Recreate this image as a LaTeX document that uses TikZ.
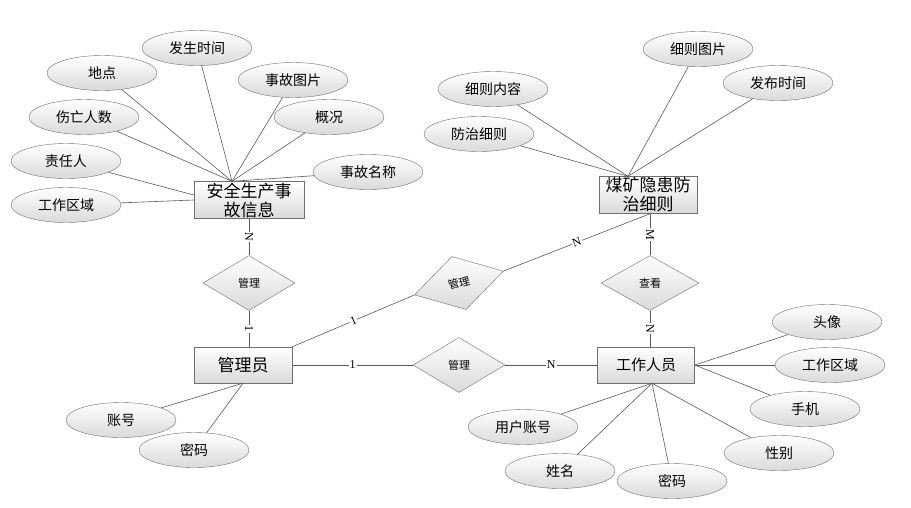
\documentclass[tikz,border=0pt]{standalone}
\usepackage{fontspec}
\setmainfont{Noto Sans CJK SC}
\newfontfamily\cardfont{Liberation Serif}
\usetikzlibrary{shapes.geometric}
\definecolor{edgegray}{HTML}{6F6F6F}
\definecolor{linegray}{HTML}{5A5A5A}
\definecolor{shadegray}{HTML}{DADADA}
\tikzset{
	attr/.style={ellipse,draw=edgegray,top color=white,bottom color=shadegray,minimum width=110pt,minimum height=35pt,inner sep=0pt,font=\fontsize{14}{16}\selectfont},
	entity/.style={rectangle,draw=edgegray,top color=white,bottom color=shadegray,minimum height=37pt,inner sep=0pt,align=center,font=\fontsize{17}{19}\selectfont},
	rel/.style={diamond,draw=edgegray,top color=white,bottom color=shadegray,minimum width=92pt,minimum height=55pt,inner sep=0pt,font=\fontsize{11}{13}\selectfont},
	link/.style={draw=linegray,line width=0.6pt},
	card/.style={fill=white,inner sep=1pt,font=\cardfont\fontsize{12}{12}\selectfont},
	vcard/.style={card,rotate=-90}
}
\begin{document}
\begin{tikzpicture}[x=1pt,y=-1pt]
	\useasboundingbox (0,0) rectangle (911,507);
	% entities
	\node[entity,minimum width=110pt] (acc) at (249,200) {安全生产事\\故信息};
	\node[entity,minimum width=98pt] (rule) at (648,195) {煤矿隐患防\\治细则};
	\node[entity,minimum width=98pt,minimum height=36pt] (adm) at (243,365) {管理员};
	\node[entity,minimum width=97pt,minimum height=36pt,font=\fontsize{15}{17}\selectfont] (wrk) at (646,365) {工作人员};
	% relations
	\node[rel] (mng1) at (249,283) {管理};
	\node[rel,rotate=15] (mng2) at (459,283) {管理};
	\node[rel] (mng3) at (459,365) {管理};
	\node[rel,minimum width=98pt] (chk) at (650,283) {查看};
	% attributes
	\foreach \n/\x/\y/\t in {a1/197/48/发生时间,a2/102/73/地点,a3/293/80/事故图片,a4/329/117/概况,
		a5/84/117/伤亡人数,a6/368/172/事故名称,a7/66/161/责任人,a8/66/205/工作区域,
		r1/698/49/细则图片,r2/493/89/细则内容,r3/778/83/发布时间,r4/479/134/防治细则,
		w1/827/322/头像,w2/830/365/工作区域,w3/805/409/手机,w4/779/453/性别,
		w5/523/427/用户账号,w6/560/471/姓名,w7/672/481/密码,
		m1/121/420/账号,m2/194/450/密码}
		\node[attr] (\n) at (\x,\y) {\t};
	\coordinate (acc-top) at ([xshift=-17pt]acc.north);
	\coordinate (rule-top) at ([xshift=-20pt]rule.north);
	\coordinate (wrk-bot) at ([xshift=6pt]wrk.south);
	\foreach \n in {a1,a2,a3,a4,a5,a6}
		\draw[link] (\n) -- (acc-top);
	\draw[link] (a7) -- ([yshift=5pt]acc.west);
	\draw[link] (a8) -- (acc.west);
	\foreach \n in {r1,r2,r3,r4}
		\draw[link] (\n) -- (rule-top);
	\foreach \n in {w1,w2,w3}
		\draw[link] (\n) -- (wrk.east);
	\foreach \n in {w4,w5,w6,w7}
		\draw[link] (\n) -- (wrk-bot);
	\foreach \n in {m1,m2}
		\draw[link] (\n) -- (adm.south);
	% relationships
	\draw[link] (acc.south) -- node[vcard]{N} (mng1.north);
	\draw[link] (mng1.south) -- node[vcard]{1} (mng1.south |- adm.north);
	\draw[link] (adm.north east) -- node[card,sloped]{1} (mng2.west);
	\draw[link] (mng2.east) -- node[card,sloped]{N} ([xshift=2pt]rule.south);
	\draw[link] ([xshift=2pt]rule.south) -- node[vcard]{M} (chk.north);
	\draw[link] (chk.south) -- node[vcard]{N} (chk.south |- wrk.north);
	\draw[link] (adm.east) -- node[card]{1} (mng3.west);
	\draw[link] (mng3.east) -- node[card]{N} (wrk.west);
\end{tikzpicture}
\end{document}
